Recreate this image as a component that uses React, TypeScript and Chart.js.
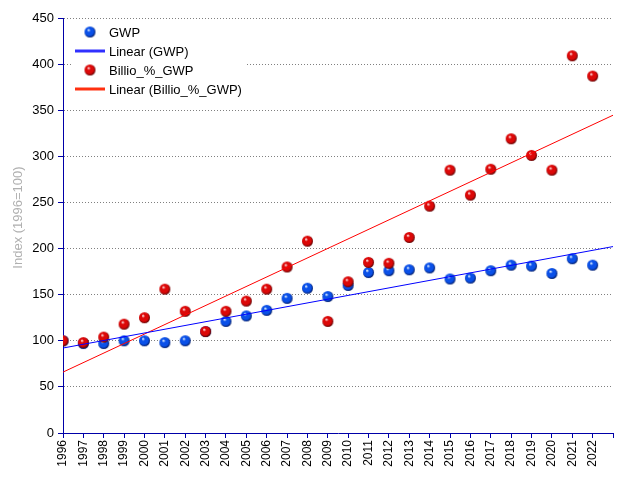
import React, { useEffect, useRef } from "react";
import { Chart, registerables } from "chart.js";

Chart.register(...registerables);

const years = [1996, 1997, 1998, 1999, 2000, 2001, 2002, 2003, 2004, 2005, 2006, 2007, 2008, 2009, 2010, 2011, 2012, 2013, 2014, 2015, 2016, 2017, 2018, 2019, 2020, 2021, 2022];
const gwp = [100, 97, 97, 100, 100, 98, 100, 110, 121, 127, 133, 146, 157, 148, 160, 174, 176, 177, 179, 167, 168, 176, 182, 181, 173, 189, 182];
const billioPctGwp = [100, 98, 104, 118, 125, 156, 132, 110, 132, 143, 156, 180, 208, 121, 164, 185, 184, 212, 246, 285, 258, 286, 319, 301, 285, 409, 387];
const xMin = 1996;
const xMax = 2023;
const yMin = 0;
const yMax = 450;
const yStep = 50;
const seriesNames = ["GWP", "Linear (GWP)", "Billio_%_GWP", "Linear (Billio_%_GWP)"];
const yTitle = "Index (1996=100)";

function regression(xs: number[], ys: number[]) {
  const n = xs.length;
  const mx = xs.reduce((a, b) => a + b, 0) / n;
  const my = ys.reduce((a, b) => a + b, 0) / n;
  let sxy = 0, sxx = 0;
  for (let i = 0; i < n; i++) {
    sxy += (xs[i] - mx) * (ys[i] - my);
    sxx += (xs[i] - mx) * (xs[i] - mx);
  }
  const slope = sxy / sxx;
  return (x: number) => my + slope * (x - mx);
}

function makeBall(light: string, base: string, dark: string) {
  const c = document.createElement("canvas");
  c.width = 13;
  c.height = 13;
  const g = c.getContext("2d")!;
  const grad = g.createRadialGradient(5, 4.5, 0.3, 6.2, 6.2, 6.5);
  grad.addColorStop(0, light);
  grad.addColorStop(0.25, base);
  grad.addColorStop(0.65, base);
  grad.addColorStop(1, dark);
  g.fillStyle = grad;
  g.beginPath();
  g.arc(6.5, 6.5, 5.5, 0, Math.PI * 2);
  g.fill();
  return c;
}

const FONT = '"Liberation Sans", Arial, sans-serif';
const AXIS = "#0000a8";

export default function App() {
  const ref = useRef<HTMLCanvasElement | null>(null);

  useEffect(() => {
    if (!ref.current) return;
    const blueBall = makeBall("#e0f0ff", "#0a50e8", "#000c40");
    const redBall = makeBall("#ffe0e0", "#dc0808", "#380000");
    const fG = regression(years, gwp);
    const fB = regression(years, billioPctGwp);

    const overlay = {
      id: "overlay",
      afterDraw(chart: any) {
        const ctx = chart.ctx as CanvasRenderingContext2D;
        const a = chart.chartArea;
        ctx.save();
        ctx.translate(18, (a.top + a.bottom) / 2 - 8);
        ctx.rotate(-Math.PI / 2);
        ctx.font = "13px " + FONT;
        ctx.fillStyle = "#b0b0b0";
        ctx.textAlign = "center";
        ctx.textBaseline = "middle";
        ctx.fillText(yTitle, 0, 0);
        ctx.restore();

        ctx.save();
        const lx = a.left + 9;
        const ly = a.top + 2;
        ctx.fillStyle = "#ffffff";
        ctx.fillRect(lx, ly, 175, 80);
        ctx.font = "13px " + FONT;
        ctx.fillStyle = "#000";
        ctx.textBaseline = "middle";
        ctx.textAlign = "left";
        const rows = [ly + 12, ly + 31, ly + 50, ly + 69];
        ctx.drawImage(blueBall, a.left + 27 - 6.5, rows[0] - 6.5);
        ctx.drawImage(redBall, a.left + 27 - 6.5, rows[2] - 6.5);
        ctx.lineWidth = 3;
        ctx.strokeStyle = "#3030ff";
        ctx.beginPath();
        ctx.moveTo(a.left + 12, rows[1]);
        ctx.lineTo(a.left + 42, rows[1]);
        ctx.stroke();
        ctx.strokeStyle = "#ff3010";
        ctx.beginPath();
        ctx.moveTo(a.left + 12, rows[3]);
        ctx.lineTo(a.left + 42, rows[3]);
        ctx.stroke();
        seriesNames.forEach((t, i) => ctx.fillText(t, a.left + 46, rows[i] + 1));
        ctx.restore();
      },
    };

    const chart = new Chart(ref.current, {
      type: "scatter",
      data: {
        datasets: [
          {
            label: seriesNames[1],
            data: [{ x: xMin, y: fG(xMin) }, { x: xMax, y: fG(xMax) }],
            showLine: true,
            borderColor: "#0000ff",
            borderWidth: 1,
            pointRadius: 0,
            order: 0,
          },
          {
            label: seriesNames[3],
            data: [{ x: xMin, y: fB(xMin) }, { x: xMax, y: fB(xMax) }],
            showLine: true,
            borderColor: "#ff0000",
            borderWidth: 1,
            pointRadius: 0,
            order: 0,
          },
          {
            label: seriesNames[2],
            data: years.map((x, i) => ({ x, y: billioPctGwp[i] })),
            pointStyle: redBall as any,
            pointRadius: 6,
            order: 1,
          },
          {
            label: seriesNames[0],
            data: years.map((x, i) => ({ x, y: gwp[i] })),
            pointStyle: blueBall as any,
            pointRadius: 6,
            order: 2,
          },
        ],
      },
      options: {
        animation: false,
        responsive: false,
        devicePixelRatio: 1,
        layout: { padding: { top: 18, right: 12, left: 0, bottom: 0 } },
        plugins: { legend: { display: false }, tooltip: { enabled: false } },
        scales: {
          x: {
            type: "linear",
            min: xMin,
            max: xMax,
            afterFit: (s: any) => { s.height = 47; s.paddingRight = 0; s.paddingLeft = 0; },
            grid: { drawOnChartArea: false, color: AXIS, tickLength: 5, tickBorderDash: [] },
            border: { color: AXIS, width: 1 },
            ticks: {
              stepSize: 1,
              autoSkip: false,
              minRotation: 90,
              maxRotation: 90,
              padding: 2,
              color: "#000",
              font: { family: FONT, size: 12 },
              callback: (v: any) => (v === xMax ? "" : String(v)),
            },
          },
          y: {
            min: yMin,
            max: yMax,
            afterFit: (s: any) => { s.width = 63; },
            grid: { color: "#808080", tickColor: AXIS, tickLength: 5, tickBorderDash: [] },
            border: { color: AXIS, width: 1, dash: [1, 2] },
            ticks: {
              stepSize: yStep,
              padding: 4,
              color: "#000",
              font: { family: FONT, size: 13 },
            },
          },
        },
      },
      plugins: [overlay],
    } as any);
    return () => chart.destroy();
  }, []);

  return (
    <div style={{ position: "absolute", left: 0, top: 0, width: 625, height: 480, background: "#fff" }}>
      <canvas ref={ref} width={625} height={480} />
    </div>
  );
}
